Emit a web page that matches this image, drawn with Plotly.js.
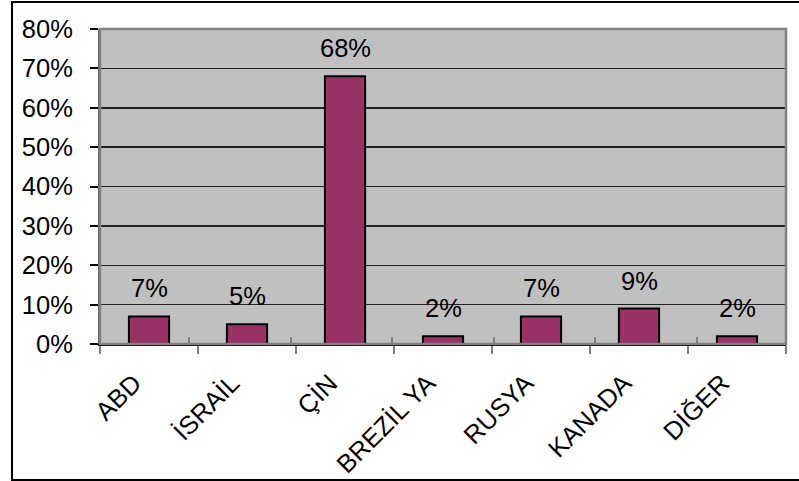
<!DOCTYPE html>
<html>
<head>
<meta charset="utf-8">
<script src="https://cdn.plot.ly/plotly-3.0.1.min.js"></script>
<style>
  html, body { margin: 0; padding: 0; background: #fff; overflow: hidden; }
  #wrap { position: relative; width: 799px; height: 481px; }
  #chart { position: absolute; left: 0; top: 0; width: 799px; height: 481px; }
  #frame {
    position: absolute; left: 11px; top: 1px; width: 800px; height: 480px;
    box-sizing: border-box; border: 2px solid #000; pointer-events: none;
  }
</style>
</head>
<body>
<div id="wrap">
  <div id="chart"></div>
  <div id="frame"></div>
</div>
<script>
// Share of production by country (percent)
const countries = ['ABD', 'İSRAİL', 'ÇİN', 'BREZİL YA', 'RUSYA', 'KANADA', 'DİĞER'];
const shares = [7, 5, 68, 2, 7, 9, 2];
const yTicks = [0, 10, 20, 30, 40, 50, 60, 70, 80];

const FONT = 'Liberation Sans, Arial, Helvetica, sans-serif';
const FSIZE = 25.5;

const bars = {
  type: 'bar',
  x: countries,
  y: shares,
  width: 0.41,
  marker: { color: '#993366', line: { color: '#000000', width: 2 } },
  hoverinfo: 'x+y',
  xaxis: 'x',
  yaxis: 'y'
};

// Invisible companion trace that carries the inward half of the category ticks
const tickCarrier = {
  type: 'scatter',
  mode: 'markers',
  x: countries,
  y: shares.map(() => 0),
  marker: { opacity: 0 },
  hoverinfo: 'skip',
  showlegend: false,
  xaxis: 'x2',
  yaxis: 'y'
};

// Value labels above each bar
const valueLabels = countries.map((c, i) => ({
  x: c,
  y: shares[i],
  xref: 'x',
  yref: 'y',
  text: shares[i] + '%',
  showarrow: false,
  yanchor: 'bottom',
  yshift: 12,
  font: { family: FONT, size: FSIZE, color: '#000' }
}));

const layout = {
  width: 799,
  height: 481,
  margin: { l: 100, r: 13, t: 29, b: 137, pad: 0 },
  paper_bgcolor: '#ffffff',
  plot_bgcolor: '#C0C0C0',
  showlegend: false,
  bargap: 0,
  font: { family: FONT, size: FSIZE, color: '#000' },
  xaxis: {
    type: 'category',
    categoryorder: 'array',
    categoryarray: countries,
    tickson: 'boundaries',
    ticks: 'outside',
    ticklen: 8,
    tickwidth: 2,
    tickcolor: '#808080',
    tickangle: -45,
    ticklabelstandoff: 12,
    ticklabelshift: -15,
    tickfont: { family: FONT, size: FSIZE, color: '#000' },
    showline: true,
    linecolor: '#000000',
    linewidth: 2,
    showgrid: false,
    zeroline: false,
    fixedrange: true
  },
  xaxis2: {
    type: 'category',
    categoryorder: 'array',
    categoryarray: countries,
    overlaying: 'x',
    anchor: 'y',
    side: 'bottom',
    tickson: 'boundaries',
    ticks: 'inside',
    ticklen: 7,
    tickwidth: 2,
    tickcolor: '#808080',
    showticklabels: false,
    showline: false,
    showgrid: false,
    zeroline: false,
    fixedrange: true
  },
  yaxis: {
    range: [0, 80],
    tickvals: yTicks,
    ticktext: yTicks.map(v => v + '%'),
    ticks: 'outside',
    ticklen: 8,
    tickwidth: 2,
    tickcolor: '#000000',
    ticklabelstandoff: 12,
    tickfont: { family: FONT, size: FSIZE, color: '#000' },
    showgrid: true,
    gridcolor: '#222222',
    gridwidth: 1.5,
    showline: true,
    linecolor: '#606060',
    linewidth: 2,
    zeroline: false,
    fixedrange: true
  },
  shapes: [
    {
      type: 'rect', xref: 'paper', yref: 'paper',
      x0: 0, x1: 1, y0: 0, y1: 1,
      line: { color: '#808080', width: 2.5 },
      fillcolor: 'rgba(0,0,0,0)',
      layer: 'above'
    }
  ],
  annotations: valueLabels
};

Plotly.newPlot('chart', [bars, tickCarrier], layout, { displayModeBar: false, staticPlot: true });
</script>
</body>
</html>
